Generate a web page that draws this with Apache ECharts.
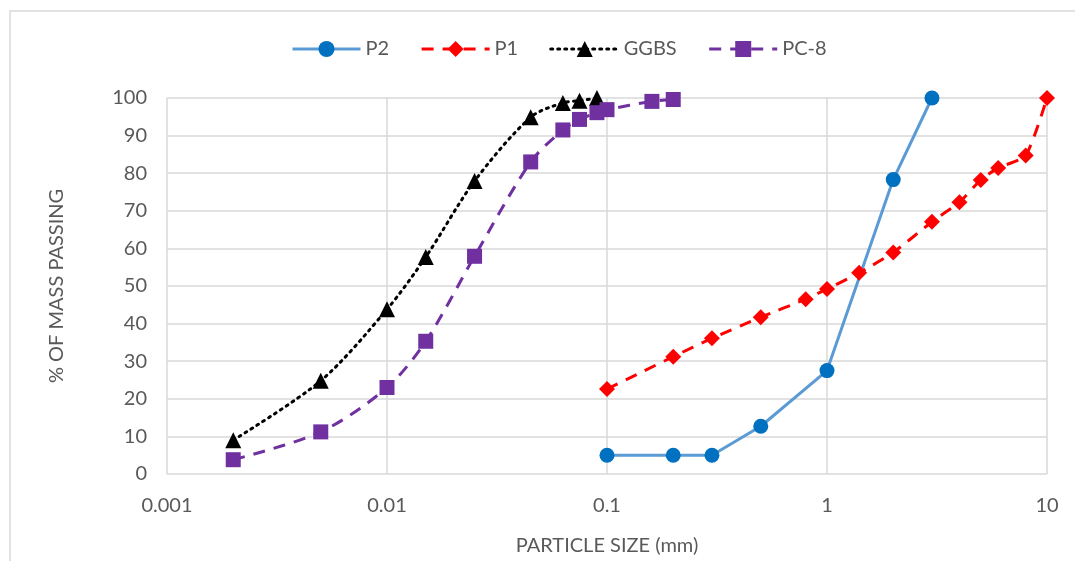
<!DOCTYPE html>
<html>
<head>
<meta charset="utf-8">
<script src="https://cdn.jsdelivr.net/npm/echarts@6/dist/echarts.min.js"></script>
<style>
  html, body { margin: 0; padding: 0; background: #fff; }
  #chart { width: 1075px; height: 561px; }
</style>
</head>
<body>
<div id="chart"></div>
<script>
// 粒径 (mm) 与通过率 (%)
const p2Size = [0.1, 0.2, 0.3, 0.5, 1, 2, 3];
const p2Pass = [5, 5, 5, 12.7, 27.5, 78.3, 100];

const p1Size = [0.1, 0.2, 0.3, 0.5, 0.8, 1, 1.4, 2, 3, 4, 5, 6, 8, 10];
const p1Pass = [22.6, 31.2, 36.1, 41.7, 46.5, 49.2, 53.5, 58.9, 67.1, 72.3, 78.2, 81.4, 84.7, 100];

const ggbsSize = [0.002, 0.005, 0.01, 0.015, 0.025, 0.045, 0.063, 0.075, 0.09];
const ggbsPass = [9, 24.8, 43.8, 57.7, 77.9, 94.9, 98.7, 99.3, 100];

const pc8Size = [0.002, 0.005, 0.01, 0.015, 0.025, 0.045, 0.063, 0.075, 0.09, 0.1, 0.16, 0.2];
const pc8Pass = [3.8, 11.2, 23, 35.3, 57.9, 83, 91.5, 94.3, 96.1, 96.9, 99.1, 99.6];

const textColor = "#595959";
const gridColor = "#d9d9d9";
const fontFamily = "Lato, 'Open Sans', sans-serif";
const fontSize = 20;

const pairs = (xs, ys) => xs.map((x, i) => [x, ys[i]]);

const chart = echarts.init(document.getElementById("chart"));
chart.setOption({
  animation: false,
  textStyle: { fontFamily },
  graphic: [
    {
      type: "rect",
      shape: { x: 10, y: 11, width: 1100, height: 600 },
      style: { fill: "none", stroke: "#d9d9d9", lineWidth: 1.5 },
      silent: true,
    },
  ],
  legend: {
    top: 34,
    left: 286,
    itemWidth: 68,
    itemHeight: 20,
    itemGap: 31,
    lineStyle: { width: 3 },
    textStyle: { color: textColor, fontSize, fontFamily },
  },
  grid: { left: 167, right: 28, top: 98, bottom: 87 },
  xAxis: {
    type: "log",
    logBase: 10,
    min: 0.001,
    max: 10,
    name: "PARTICLE SIZE (mm)",
    nameLocation: "middle",
    nameGap: 62,
    nameTextStyle: { color: textColor, fontSize, fontFamily },
    axisLine: { show: false },
    axisTick: { show: false },
    axisLabel: {
      color: textColor,
      fontSize,
      margin: 22,
      formatter: (v) => String(Number(Number(v).toPrecision(6))),
    },
    splitLine: { show: true, lineStyle: { color: gridColor, width: 1.5 } },
  },
  yAxis: {
    type: "value",
    min: 0,
    max: 100,
    interval: 10,
    name: "% OF MASS PASSING",
    nameLocation: "middle",
    nameGap: 100,
    nameRotate: 90,
    nameTextStyle: { color: textColor, fontSize, fontFamily },
    axisLine: { show: false },
    axisTick: { show: false },
    axisLabel: { color: textColor, fontSize, margin: 20 },
    splitLine: { show: true, lineStyle: { color: gridColor, width: 1.5 } },
  },
  series: [
    {
      name: "P2",
      type: "line",
      data: pairs(p2Size, p2Pass),
      symbol: "circle",
      symbolSize: 15,
      itemStyle: { color: "#0070C0" },
      lineStyle: { color: "#5B9BD5", width: 3, type: "solid" },
      z: 3,
    },
    {
      name: "P1",
      type: "line",
      data: pairs(p1Size, p1Pass),
      symbol: "diamond",
      symbolSize: 16,
      smooth: 0.2,
      itemStyle: { color: "#FF0000" },
      lineStyle: { color: "#FF0000", width: 3, type: [12, 9] },
      z: 4,
    },
    {
      name: "GGBS",
      type: "line",
      data: pairs(ggbsSize, ggbsPass),
      symbol: "triangle",
      symbolSize: 16,
      smooth: 0.3,
      itemStyle: { color: "#000000" },
      lineStyle: { color: "#000000", width: 3, type: [2, 5], cap: "round" },
      z: 5,
    },
    {
      name: "PC-8",
      type: "line",
      data: pairs(pc8Size, pc8Pass),
      symbol: "rect",
      symbolSize: 15,
      smooth: 0.3,
      itemStyle: { color: "#7030A0" },
      lineStyle: { color: "#7030A0", width: 3, type: [12, 9] },
      z: 6,
    },
  ],
});
</script>
</body>
</html>
